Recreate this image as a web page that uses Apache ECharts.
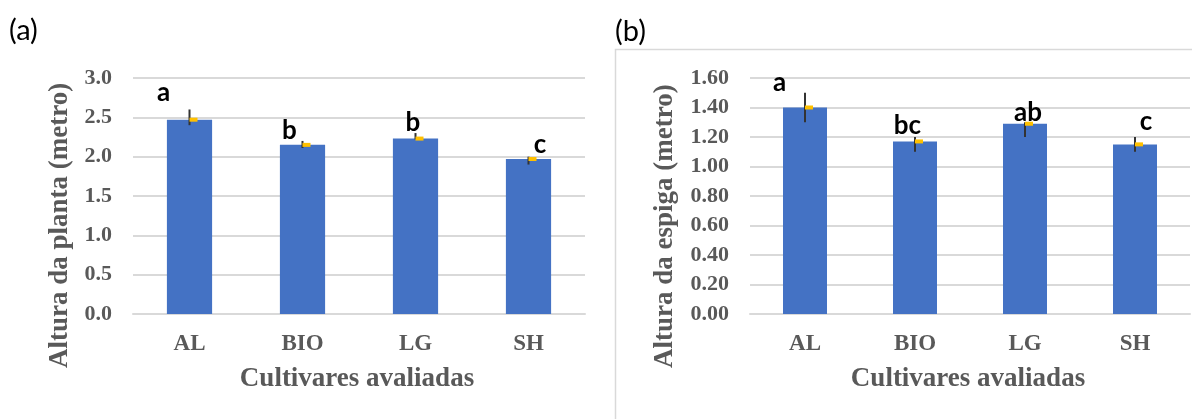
<!DOCTYPE html>
<html>
<head>
<meta charset="utf-8">
<script src="https://cdn.jsdelivr.net/npm/echarts@6/dist/echarts.min.js"></script>
<style>
html,body{margin:0;padding:0;background:#fff;}
#chart{width:1192px;height:419px;}
</style>
</head>
<body>
<div id="chart"></div>
<script>
// ---- data ----
const categories = ['AL', 'BIO', 'LG', 'SH'];
// (a) Altura da planta (metro)
const plantHeight = [2.47, 2.15, 2.23, 1.97];
const plantErrLow = [2.40, 2.11, 2.22, 1.90];
const plantErrHigh = [2.60, 2.20, 2.30, 2.00];
const plantLetters = ['a', 'b', 'b', 'c'];
const plantTicks = { min: 0, max: 3.0, interval: 0.5 };
// (b) Altura da espiga (metro)
const earHeight = [1.40, 1.17, 1.29, 1.15];
const earErrLow = [1.30, 1.10, 1.20, 1.10];
const earErrHigh = [1.50, 1.20, 1.30, 1.20];
const earLetters = ['a', 'bc', 'ab', 'c'];
const earTicks = { min: 0, max: 1.6, interval: 0.2 };

// ---- layout / style (not data) ----
const letterNudgeA = [[-26, -8], [-13, -1], [-2.5, -1.5], [11.5, -3.5]];
const letterNudgeB = [[-25.5, -1.5], [-7.7, -2.3], [3, -1], [11, -6.3]];
const SERIF = '"Liberation Serif", "Times New Roman", serif';
const SANS = 'Lato, "Noto Sans", sans-serif';
const GRAY = '#595959';
const GRID_COLOR = '#d9d9d9';

function makeCustom(values, lows, highs, letters, nudge, axisIdx) {
  return {
    type: 'custom',
    xAxisIndex: axisIdx,
    yAxisIndex: axisIdx,
    z: 5,
    clip: false,
    data: values.map((v, i) => [i, v, lows[i], highs[i]]),
    renderItem: function (params, api) {
      const i = api.value(0);
      const pV = api.coord([i, api.value(1)]);
      const pLo = api.coord([i, api.value(2)]);
      const pHi = api.coord([i, api.value(3)]);
      const n = nudge[params.dataIndex];
      return {
        type: 'group',
        children: [
          { type: 'line', shape: { x1: pV[0], y1: pLo[1], x2: pV[0], y2: pHi[1] },
            style: { stroke: '#333333', lineWidth: 2 } },
          { type: 'rect', shape: { x: pV[0], y: pV[1] - 2, width: 8, height: 4 },
            style: { fill: '#FFC000' } },
          { type: 'text', x: pHi[0] + n[0], y: pHi[1] + n[1] - 9,
            style: { text: letters[params.dataIndex], fill: '#000', font: 'bold 26px ' + SANS,
                     align: 'center', verticalAlign: 'middle' } }
        ]
      };
    }
  };
}

function xAxisCfg(gi) {
  return {
    type: 'category', gridIndex: gi, data: categories,
    axisTick: { show: false },
    axisLine: { lineStyle: { color: GRID_COLOR, width: 2 } },
    axisLabel: { color: GRAY, fontFamily: SERIF, fontWeight: 'bold', fontSize: 23, margin: 19 }
  };
}
function yAxisCfg(gi, t, dec) {
  return {
    type: 'value', gridIndex: gi, min: t.min, max: t.max, interval: t.interval,
    axisLine: { show: false }, axisTick: { show: false },
    splitLine: { lineStyle: { color: GRID_COLOR, width: 2 } },
    axisLabel: { color: GRAY, fontFamily: SERIF, fontWeight: 'bold', fontSize: 22, margin: 21,
                 formatter: v => v.toFixed(dec) }
  };
}

const chart = echarts.init(document.getElementById('chart'));
chart.setOption({
  animation: false,
  backgroundColor: '#fff',
  grid: [
    { left: 133, top: 78, width: 452, height: 236 },
    { left: 750, top: 78, width: 440, height: 236 }
  ],
  xAxis: [xAxisCfg(0), xAxisCfg(1)],
  yAxis: [yAxisCfg(0, plantTicks, 1), yAxisCfg(1, earTicks, 2)],
  series: [
    { type: 'bar', xAxisIndex: 0, yAxisIndex: 0, data: plantHeight, barWidth: '40%',
      itemStyle: { color: '#4472C4' } },
    { type: 'bar', xAxisIndex: 1, yAxisIndex: 1, data: earHeight, barWidth: '40%',
      itemStyle: { color: '#4472C4' } },
    makeCustom(plantHeight, plantErrLow, plantErrHigh, plantLetters, letterNudgeA, 0),
    makeCustom(earHeight, earErrLow, earErrHigh, earLetters, letterNudgeB, 1)
  ],
  graphic: [
    { type: 'rect', shape: { x: 615.5, y: 49.5, width: 700, height: 500 },
      style: { fill: 'none', stroke: GRID_COLOR, lineWidth: 1.5 }, silent: true },
    { type: 'text', x: 9, y: 31, style: { text: '(a)', fill: '#000', font: '29px ' + SANS, verticalAlign: 'middle' } },
    { type: 'text', x: 615, y: 32, style: { text: '(b)', fill: '#000', font: '29px ' + SANS, verticalAlign: 'middle' } },
    { type: 'text', x: 357, y: 379, style: { text: 'Cultivares avaliadas', fill: GRAY, font: 'bold 27px ' + SERIF, align: 'center', verticalAlign: 'middle' } },
    { type: 'text', x: 968, y: 379, style: { text: 'Cultivares avaliadas', fill: GRAY, font: 'bold 27px ' + SERIF, align: 'center', verticalAlign: 'middle' } },
    { type: 'text', x: 60, y: 368, rotation: Math.PI / 2, style: { text: 'Altura da planta (metro)', fill: GRAY, font: 'bold 27px ' + SERIF, align: 'left', verticalAlign: 'middle' } },
    { type: 'text', x: 665, y: 368, rotation: Math.PI / 2, style: { text: 'Altura da espiga (metro)', fill: GRAY, font: 'bold 27px ' + SERIF, align: 'left', verticalAlign: 'middle' } }
  ]
});
</script>
</body>
</html>
